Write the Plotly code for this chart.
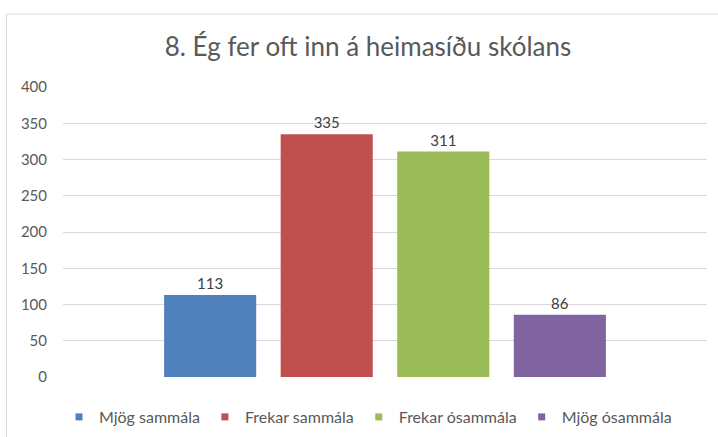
import plotly.graph_objects as go

title = "8. Ég fer oft inn á heimasíðu skólans"
series_names = ["Mjög sammála", "Frekar sammála", "Frekar ósammála", "Mjög ósammála"]
series_values = [113, 335, 311, 86]
series_colors = ["#4f81bd", "#c0504d", "#9bbb59", "#8064a2"]
category = [""]
y_ticks = [0, 50, 100, 150, 200, 250, 300, 350, 400]

FONT = "Lato, Open Sans, sans-serif"

fig = go.Figure()
for name, val, col in zip(series_names, series_values, series_colors):
    fig.add_trace(go.Bar(
        x=category, y=[val], name=name, showlegend=False,
        marker=dict(color=col, line=dict(width=0)),
        text=[str(val)], textposition="outside",
        textfont=dict(family=FONT, size=15, color="#404040"),
        cliponaxis=False,
    ))
# legend entries with small square keys
for name, col in zip(series_names, series_colors):
    fig.add_trace(go.Scatter(
        x=category, y=[None], name=name, mode="markers",
        marker=dict(symbol="square", size=7, color=col),
        hoverinfo="skip",
    ))

W, H = 718, 437
ml, mr, mt, mb = 63, 11, 87, 60
pw, ph = W - ml - mr, H - mt - mb

def px_x(x):
    return (x - ml) / pw

def px_y(y):
    return (H - mb - y) / ph

fig.update_layout(
    width=W, height=H,
    margin=dict(l=ml, r=mr, t=mt, b=mb),
    paper_bgcolor="white", plot_bgcolor="white",
    barmode="group", bargap=0.276, bargroupgap=0.21,
    title=dict(text=title, xref="container", x=368 / W, xanchor="center",
               yref="container", y=1 - 47 / H, yanchor="middle",
               font=dict(family=FONT, size=26, color="#595959")),
    showlegend=True,
    legend=dict(orientation="h", xref="container", x=368 / W, xanchor="center",
                yref="container", y=1 - 417 / H, yanchor="middle",
                font=dict(family=FONT, size=16, color="#595959"),
                itemwidth=30, traceorder="normal"),
    xaxis=dict(showticklabels=False, showgrid=False, zeroline=False,
               showline=False, ticks=""),
    yaxis=dict(range=[0, 400], tickvals=y_ticks, showgrid=True,
               gridcolor="#d9d9d9", gridwidth=1, zeroline=False,
               showline=False, ticks="", ticklabelstandoff=15,
               tickfont=dict(family=FONT, size=15, color="#595959")),
    shapes=[dict(type="rect", xref="paper", yref="paper",
                 x0=px_x(6.5), x1=px_x(725), y0=px_y(445), y1=px_y(14),
                 line=dict(color="#d9d9d9", width=1), fillcolor="rgba(0,0,0,0)",
                 layer="below")],
)

fig.write_html("out.html", config={"displayModeBar": False},
               post_script="document.body.style.margin='0';")
